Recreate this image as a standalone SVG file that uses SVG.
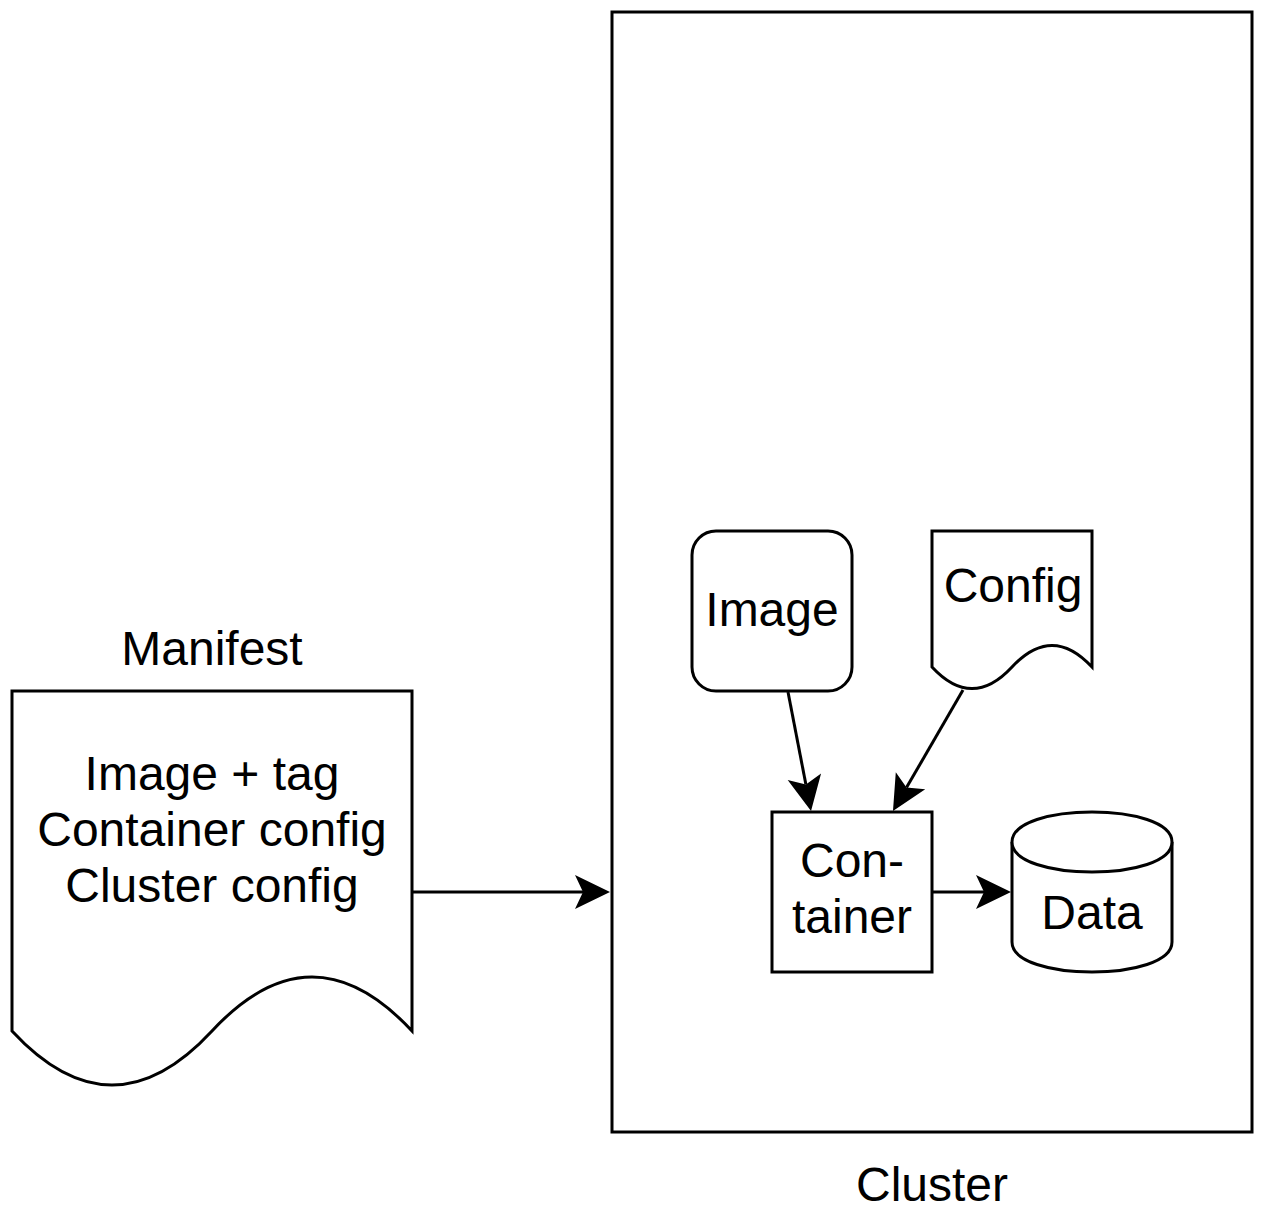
<svg xmlns="http://www.w3.org/2000/svg" width="1264" height="1224" viewBox="0 0 1264 1224">
<style>
.s{fill:#fff;stroke:#000;stroke-width:3;stroke-linejoin:miter}
.t{font-family:"Liberation Sans",Arial,Helvetica,sans-serif;font-size:48px;fill:#000;text-anchor:middle}
.c{fill:none;stroke:#000;stroke-width:3;marker-end:url(#arr)}
</style>
<defs>
<marker id="arr" markerUnits="userSpaceOnUse" viewBox="-10 -20 40 40" markerWidth="40" markerHeight="40" refX="0" refY="0" orient="auto">
<path d="M27,0 L-8,-17 L0,0 L-8,17 Z" fill="#000" stroke="none"/>
</marker>
</defs>
<rect width="1264" height="1224" fill="#fff"/>
<g id="cluster">
<rect class="s" x="612" y="12" width="640" height="1120"/>
<text class="t" x="932" y="1201">Cluster</text>
</g>
<g id="manifest">
<path class="s" d="M12,691 H412 V1031 Q312,923 212,1031 Q112,1139 12,1031 Z"/>
<text class="t" x="212" y="665">Manifest</text>
<text class="t" x="212" y="790">Image + tag</text>
<text class="t" x="212" y="846">Container config</text>
<text class="t" x="212" y="902">Cluster config</text>
</g>
<g id="image">
<rect class="s" x="692" y="531" width="160" height="160" rx="24" ry="24"/>
<text class="t" x="772" y="626">Image</text>
</g>
<g id="config">
<path class="s" d="M932,531 H1092 V667 Q1052,623.8 1012,667 Q972,710.2 932,667 Z"/>
<text class="t" x="1013" y="602">Config</text>
</g>
<g id="container">
<rect class="s" x="772" y="812" width="160" height="160"/>
<text class="t" x="852" y="877">Con-</text>
<text class="t" x="852" y="933">tainer</text>
</g>
<g id="data">
<path class="s" d="M1012,842 C1012,802 1172,802 1172,842 L1172,942 C1172,982 1012,982 1012,942 Z"/>
<path class="s" d="M1012,842 C1012,882 1172,882 1172,842" fill="none"/>
<text class="t" x="1092" y="929">Data</text>
</g>
<g id="connectors">
<path class="c" d="M412,892 L583,892"/>
<path class="c" d="M788,692 L805.9,784.5"/>
<path class="c" d="M963,690 L906.5,787.6"/>
<path class="c" d="M932,892 L984,892"/>
</g>
</svg>
